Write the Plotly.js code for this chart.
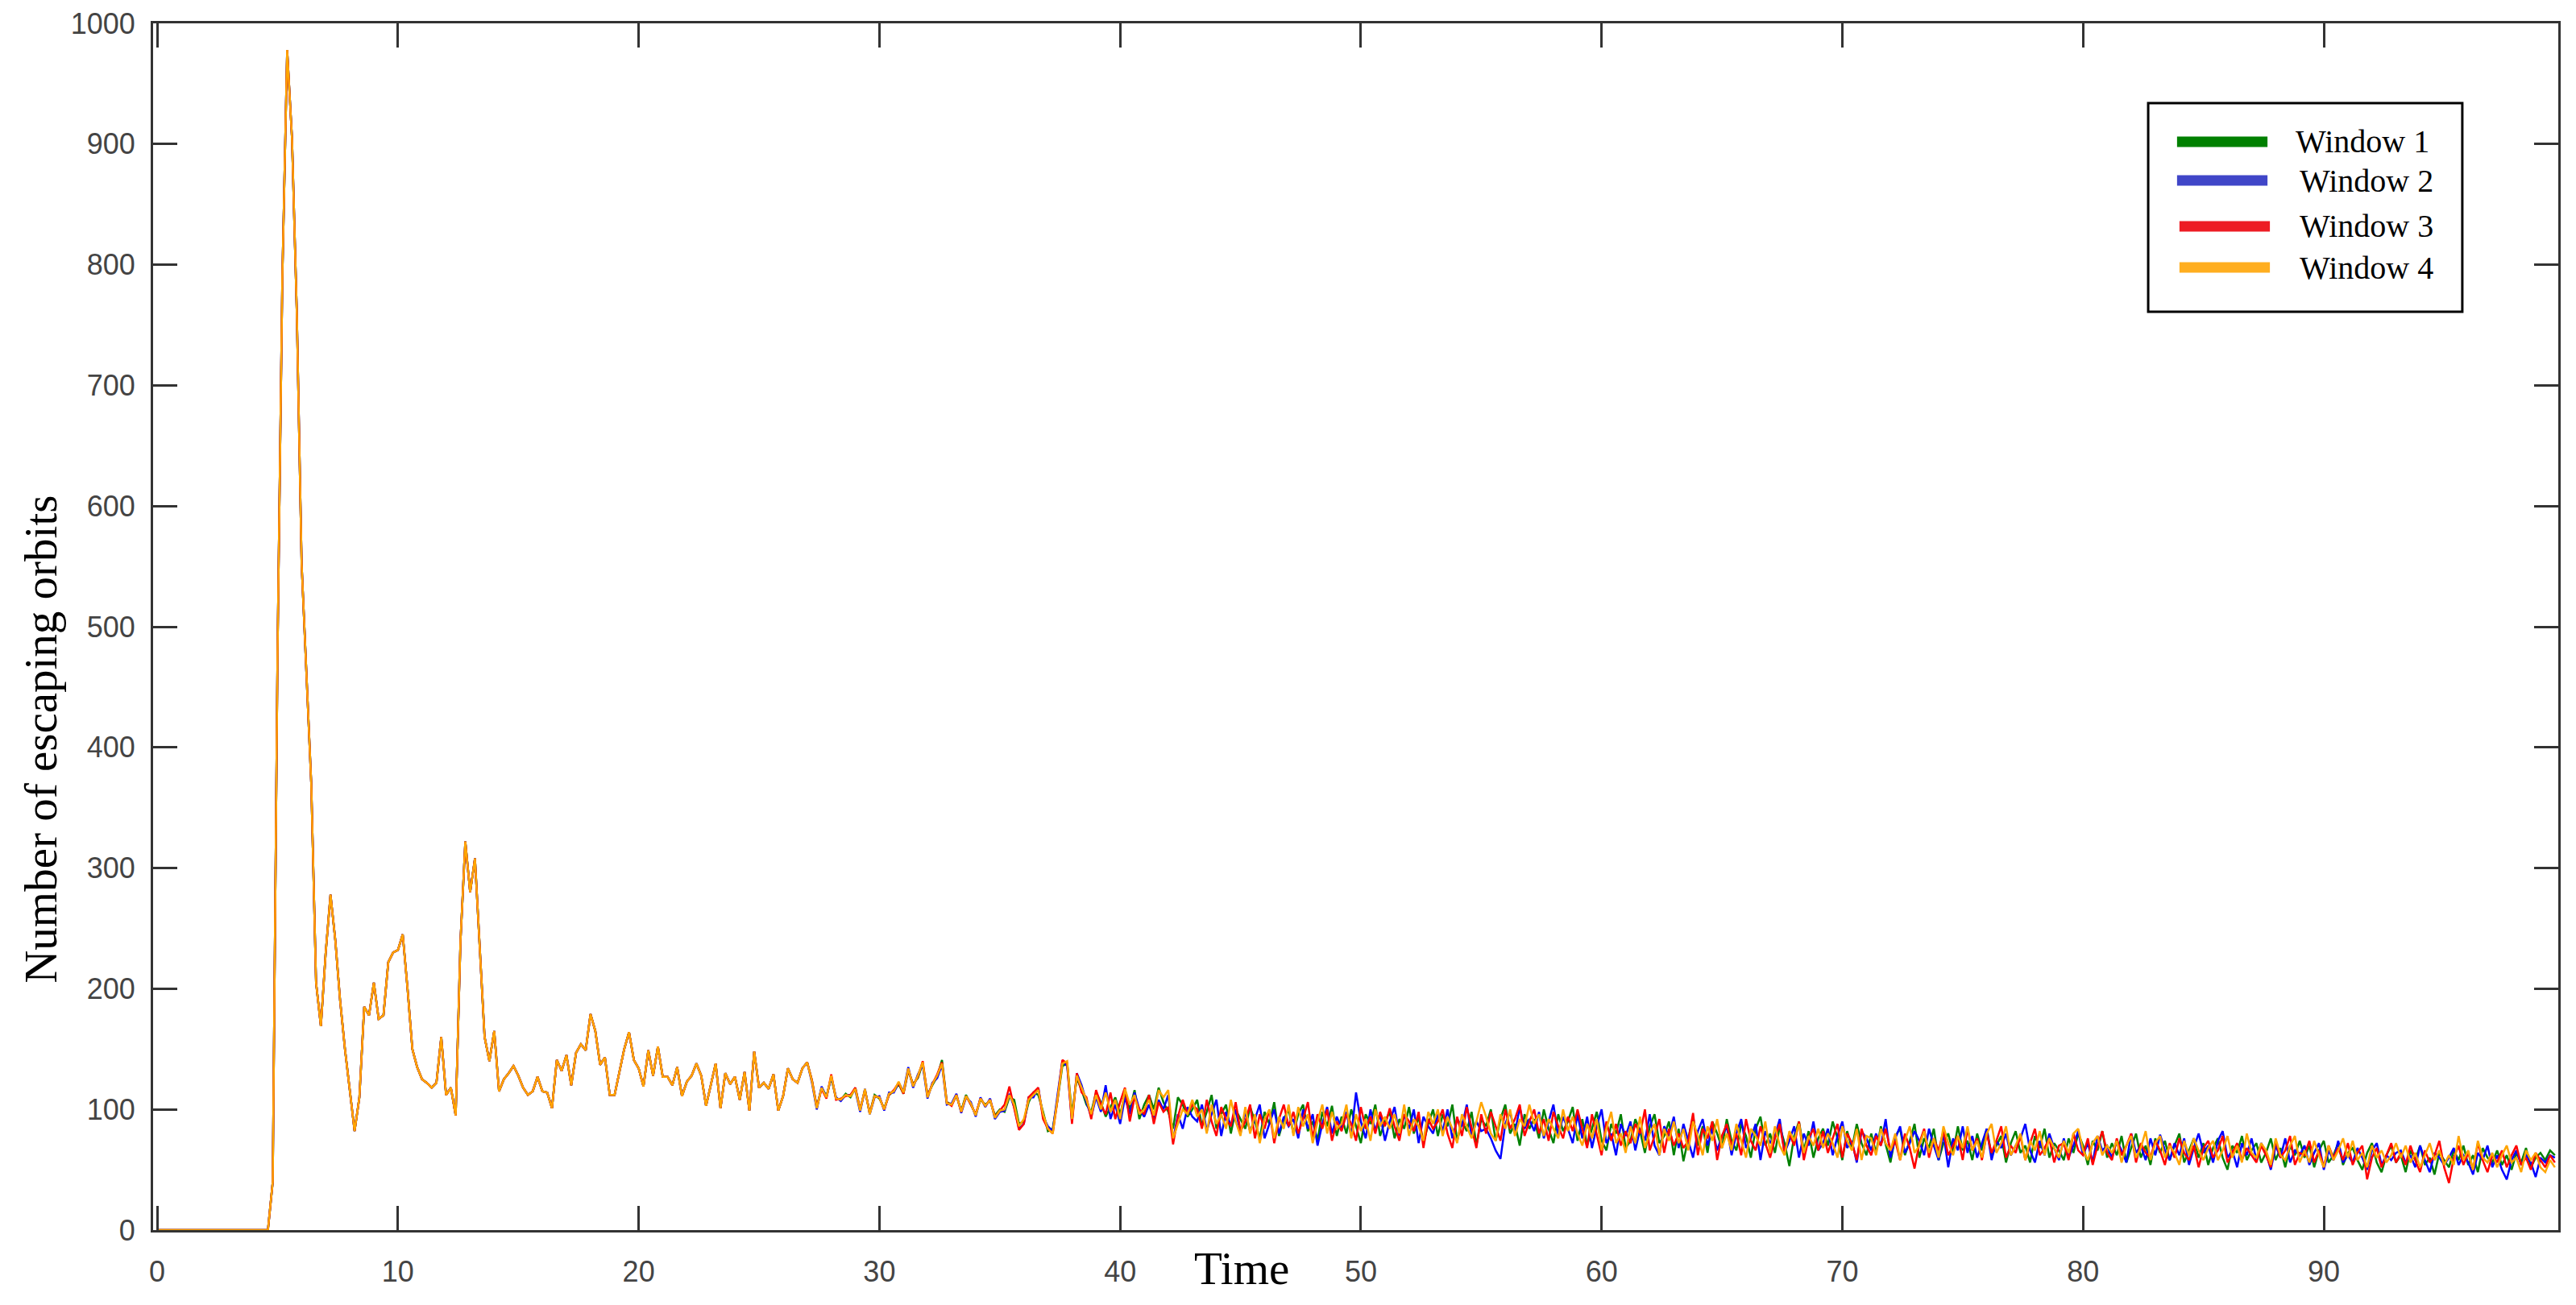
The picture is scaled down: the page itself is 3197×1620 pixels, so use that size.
<!DOCTYPE html>
<html>
<head>
<meta charset="utf-8">
<script src="https://cdn.plot.ly/plotly-3.0.1.min.js"></script>
<style>html,body{margin:0;padding:0;background:#fff;}#chart{width:3197px;height:1620px;}</style>
</head>
<body>
<div id="chart"></div>
<script>
// ---------- data ----------
const seriesNames = ['Window 1', 'Window 2', 'Window 3', 'Window 4'];
const timeStart = 0;
const timeStep = 0.2;
const xTicks = [0, 10, 20, 30, 40, 50, 60, 70, 80, 90];
const yTicks = [0, 100, 200, 300, 400, 500, 600, 700, 800, 900, 1000];
const xTitle = 'Time';
const yTitle = 'Number of escaping orbits';

// t = 0.0 ... 27.0 (identical for all four windows)
const sharedEarly = [
  0,0,0,0,0,0,0,0,0,0,0,0,0,0,0,0,0,0,0,0,0,0,0,0,
  40,480,790,978,905,760,552,456,370,205,
  169,230,278,240,190,150,115,82,110,185,
  178,205,175,178,222,230,232,245,200,150,
  135,125,122,118,122,160,112,118,95,240,
  322,280,308,230,160,140,165,115,125,130,
  136,128,118,112,115,127,115,114,101,141,
  132,145,120,147,154,149,179,165,137,143,
  112,112,130,150,164,141,134,119,149,128,
  152,127,127,120,135,111,123,128,138,128,
  103,120,138,101,130,121,127,108,131,99,
  148,118,122,117,129,99,111,134,125,122,
  134,139
];

// t = 27.2 ... 99.6
const window1Late = [
  124,102,118,111,126,109,108,113,110,118,
  100,116,97,112,109,101,112,115,121,113,
  132,121,126,138,112,120,127,141,106,104,
  111,99,112,104,96,108,104,107,95,100,
  98,110,108,88,90,106,114,112,98,82,
  84,108,136,138,96,126,116,104,98,114,
  106,94,102,110,96,112,100,116,92,104,
  112,100,118,106,98,84,110,104,94,100,
  108,86,98,112,84,96,104,80,100,92,
  84,102,90,76,98,88,106,78,92,100,
  80,96,104,82,90,74,98,86,103,78,
  94,80,100,86,72,96,88,104,78,90,
  98,76,92,84,102,80,94,72,88,100,
  78,96,86,104,74,90,82,98,70,92,
  86,100,74,92,104,80,88,70,96,84,
  92,76,100,84,72,96,82,90,102,74,
  92,70,84,98,74,66,88,80,96,68,
  74,92,82,64,86,96,72,78,90,62,
  84,57,76,94,70,86,64,90,80,68,
  92,74,66,88,78,60,84,94,70,80,
  64,86,72,53,78,90,66,82,60,76,
  84,70,90,76,58,82,68,88,72,62,
  80,64,86,70,56,78,84,62,74,88,
  60,76,68,84,58,72,80,64,86,66,
  74,58,80,66,84,62,70,78,56,72,
  82,64,70,56,78,68,84,60,72,66,
  58,76,64,80,70,54,74,66,82,60,
  72,62,78,56,68,80,60,70,54,76,
  64,74,58,70,80,56,66,76,60,72,
  54,68,76,60,50,70,64,78,58,66,
  72,56,64,76,58,68,52,70,62,74,
  60,70,52,66,74,56,62,72,54,64,
  68,58,50,64,72,56,48,62,70,56,
  62,48,66,58,70,54,60,46,64,58,
  52,66,58,70,54,62,48,68,60,56,
  66,54,62,50,64,56,68,52,60,64,
  58,66,62
];

const window2Late = [
  122,100,119,110,127,110,107,112,112,116,
  98,117,96,110,111,99,114,114,122,115,
  135,118,129,137,109,122,126,137,104,105,
  113,97,110,106,94,110,102,109,92,98,
  99,113,102,84,88,110,110,118,94,86,
  82,112,140,136,90,130,120,106,94,110,
  98,120,92,104,88,110,96,114,100,94,
  104,92,108,100,112,74,96,84,102,94,
  90,104,82,96,108,78,98,86,100,80,
  98,82,92,104,76,88,100,80,94,86,
  92,76,100,84,96,70,88,102,80,94,
  84,98,78,114,90,76,100,82,96,74,
  90,102,78,96,84,100,72,94,86,80,
  96,82,100,76,92,86,104,78,90,82,
  84,76,66,59,88,98,80,102,84,92,
  82,98,76,90,104,78,94,84,72,96,
  76,94,68,86,100,72,80,62,88,78,
  90,66,84,74,96,70,62,86,78,94,
  68,88,74,60,82,92,70,84,66,78,
  86,62,80,92,68,76,88,58,82,72,
  78,92,64,74,86,60,80,70,90,66,
  72,84,62,78,90,68,74,56,82,76,
  66,80,70,92,60,76,86,64,72,82,
  74,62,84,70,58,80,52,76,66,86,
  64,78,60,72,84,58,74,68,80,62,
  70,76,88,66,56,74,62,80,68,58,
  76,60,70,82,62,72,56,78,66,70,
  60,74,66,56,80,64,70,58,76,62,
  79,66,58,72,62,76,54,68,80,64,
  70,56,74,82,60,66,52,72,62,76,
  58,72,64,50,70,60,76,56,66,62,
  70,54,64,72,50,66,58,74,56,62,
  56,68,60,50,66,72,54,62,58,64,
  66,56,62,52,70,58,48,64,60,54,
  60,68,54,62,56,46,64,58,70,52,
  62,50,42,58,66,54,62,56,44,60,
  56,62,60
];

const window3Late = [
  124,102,117,109,129,108,109,111,112,118,
  100,116,97,111,110,100,112,116,122,113,
  133,120,127,140,111,121,129,139,106,103,
  112,98,111,104,96,109,103,108,94,99,
  104,119,100,83,88,110,114,118,92,84,
  80,108,141,138,88,130,114,110,92,116,
  104,96,114,92,106,118,90,110,100,96,
  112,88,106,98,102,71,94,108,96,104,
  100,84,108,90,78,102,92,86,106,82,
  90,104,76,96,84,100,72,92,104,86,
  98,80,92,106,76,96,84,100,74,90,
  82,96,88,74,102,84,94,80,98,86,
  101,86,74,96,90,82,98,68,92,84,
  90,100,80,68,94,78,102,84,68,96,
  80,98,86,74,100,84,92,104,78,90,
  100,80,92,74,98,86,76,94,82,100,
  84,68,96,78,62,90,74,88,70,82,
  72,88,80,100,66,78,92,64,84,70,
  80,68,74,97,62,84,76,90,58,78,
  88,70,80,62,92,74,66,86,72,60,
  76,88,64,80,70,90,58,76,84,66,
  82,64,76,88,60,80,72,58,84,70,
  62,78,70,84,66,74,58,80,68,51,
  72,84,60,76,66,82,62,70,78,58,
  84,66,76,58,80,64,74,86,60,70,
  64,78,58,72,84,62,68,76,56,70,
  72,58,80,66,62,76,54,70,82,64,
  58,76,62,70,80,56,72,64,60,74,
  66,54,72,60,76,64,58,70,52,68,
  74,60,66,78,56,64,72,58,68,62,
  56,70,62,52,74,60,66,78,54,64,
  62,74,56,66,52,70,60,68,58,72,
  54,64,70,42,60,68,52,62,72,56,
  64,54,70,58,48,66,56,62,74,52,
  39,60,70,54,64,50,72,58,48,62,
  56,66,52,62,70,54,60,50,64,58,
  52,62,56
];

const window4Late = [
  123,101,118,110,128,109,108,112,111,117,
  99,117,96,111,110,100,113,115,123,114,
  134,119,128,139,110,121,128,138,105,104,
  112,98,111,105,95,109,103,108,93,99,
  100,112,104,86,92,108,112,116,96,84,
  80,110,138,140,92,128,118,108,96,112,
  100,114,98,108,92,117,104,112,96,100,
  108,95,116,110,116,76,88,100,96,108,
  94,100,80,104,88,96,84,108,90,78,
  102,80,96,72,92,100,76,94,84,104,
  78,102,86,96,72,90,104,80,98,84,
  88,104,76,96,82,92,74,100,86,94,
  84,96,80,104,78,92,86,74,98,88,
  100,78,94,84,72,96,86,76,90,106,
  94,80,74,96,84,100,78,92,86,104,
  88,96,78,92,84,76,100,82,94,80,
  70,88,76,92,66,84,98,72,80,64,
  86,72,94,68,80,88,62,84,74,90,
  72,84,66,90,78,62,86,74,92,68,
  80,66,88,74,60,84,78,70,90,64,
  86,70,62,82,74,88,64,78,70,84,
  68,80,72,60,86,74,66,84,58,78,
  76,62,84,72,66,80,58,74,86,64,
  70,82,64,76,60,86,72,62,78,68,
  86,66,74,60,80,88,64,72,86,62,
  70,80,58,74,66,82,62,76,68,60,
  74,64,80,84,66,58,72,78,62,70,
  64,74,56,70,78,60,68,82,58,72,
  78,60,70,64,54,74,62,76,66,58,
  68,74,58,66,78,60,70,56,80,64,
  60,72,66,54,76,62,58,70,78,56,
  66,56,74,62,52,70,58,66,76,60,
  74,58,64,52,70,60,66,56,62,72,
  60,70,56,64,52,62,72,58,66,54,
  62,54,78,58,66,50,74,60,56,64,
  52,62,70,56,60,48,66,58,64,52,
  48,58,52
];

const lateSeries = [window1Late, window2Late, window3Late, window4Late];
const lineColors = ['#008000', '#0000ff', '#ff0000', '#ffa500'];
const legendColors = ['#008000', '#4046c8', '#ed1c24', '#ffae1f'];

// ---------- build traces ----------
const traces = lateSeries.map(function (late, k) {
  const yv = sharedEarly.concat(late);
  const xv = yv.map(function (_, i) { return +(timeStart + i * timeStep).toFixed(1); });
  return {
    type: 'scatter', mode: 'lines', name: seriesNames[k],
    x: xv, y: yv, showlegend: false, hoverinfo: 'skip',
    line: { color: lineColors[k], width: 2.5 }
  };
});

// ---------- legend (drawn in paper coordinates) ----------
const serif = '"Liberation Serif", "Times New Roman", serif';
const sans = '"Liberation Sans", Arial, sans-serif';
const legendRowsY = [0.9019, 0.8698, 0.8318, 0.7977];
const legendSampleX = [[0.8415, 0.8791], [0.8415, 0.8791], [0.8425, 0.8801], [0.8425, 0.8801]];
const legendTextX = [0.8901, 0.8918, 0.8918, 0.8918];

const shapes = [{
  type: 'rect', xref: 'paper', yref: 'paper',
  x0: 0.8295, x1: 0.9601, y0: 0.7610, y1: 0.9339,
  line: { color: '#000', width: 3 }, fillcolor: '#fff', layer: 'above'
}];
const annotations = [];
seriesNames.forEach(function (nm, k) {
  shapes.push({
    type: 'line', xref: 'paper', yref: 'paper',
    x0: legendSampleX[k][0], x1: legendSampleX[k][1], y0: legendRowsY[k], y1: legendRowsY[k],
    line: { color: legendColors[k], width: 13 }, layer: 'above'
  });
  annotations.push({
    xref: 'paper', yref: 'paper', x: legendTextX[k], y: legendRowsY[k],
    xanchor: 'left', yanchor: 'middle', showarrow: false, text: nm,
    font: { family: serif, size: 40, color: '#000' }
  });
});
annotations.push({
  xref: 'paper', yref: 'paper', x: 0.4526, y: -0.032, xanchor: 'center', yanchor: 'middle',
  showarrow: false, text: xTitle, font: { family: serif, size: 57, color: '#000' }
});
annotations.push({
  xref: 'paper', yref: 'paper', x: -0.0466, y: 0.4066, xanchor: 'center', yanchor: 'middle',
  textangle: -90, showarrow: false, text: yTitle, font: { family: serif, size: 57, color: '#000' }
});

const axisCommon = {
  showline: true, linecolor: '#333', linewidth: 3, mirror: 'ticks',
  ticks: 'inside', ticklen: 30, tickwidth: 3, tickcolor: '#333',
  showgrid: false, zeroline: false,
  tickfont: { family: sans, size: 36, color: '#444' }
};

const layout = {
  width: 3197, height: 1620,
  margin: { l: 190, r: 22, t: 29, b: 93 },
  paper_bgcolor: '#fff', plot_bgcolor: '#fff',
  showlegend: false,
  xaxis: Object.assign({}, axisCommon, {
    range: [-0.17, 99.74], tickmode: 'array', tickvals: xTicks,
    ticktext: xTicks.map(String), ticklabelstandoff: 18
  }),
  yaxis: Object.assign({}, axisCommon, {
    range: [0, 1000], tickmode: 'array', tickvals: yTicks,
    ticktext: yTicks.map(String), ticklabelstandoff: 12
  }),
  shapes: shapes,
  annotations: annotations
};

Plotly.newPlot('chart', traces, layout, { displayModeBar: false, staticPlot: true });
</script>
</body>
</html>
